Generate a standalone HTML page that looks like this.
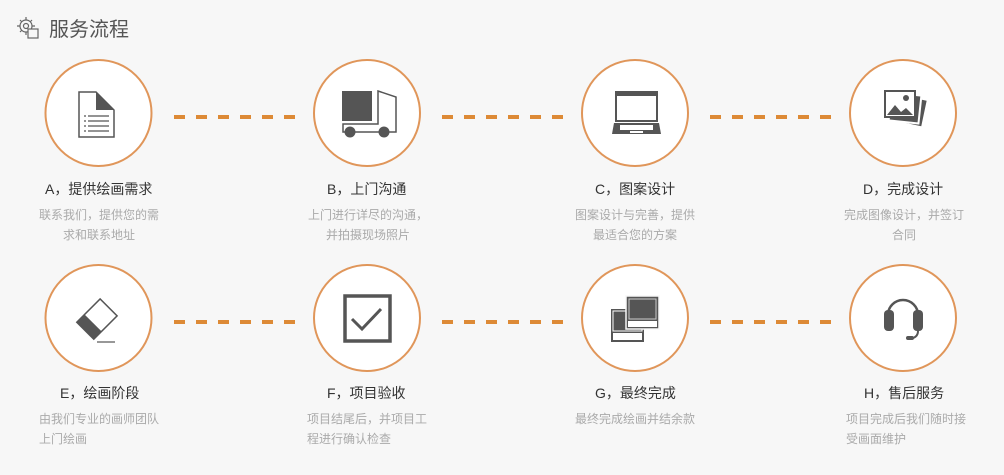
<!DOCTYPE html>
<html><head><meta charset="utf-8"><style>
body{margin:0;width:1004px;height:475px;background:#f7f7f7;font-family:"Liberation Sans","Noto Sans CJK SC",sans-serif;position:relative;overflow:hidden}
.t{position:absolute;font-size:14px;color:#333;white-space:nowrap}
.d{position:absolute;font-size:12px;color:#aaa;line-height:20px;width:124px}
.c{text-align:center}
svg{position:absolute;left:0;top:0}
</style></head><body>
<svg width="1004" height="475" viewBox="0 0 1004 475">
<!-- header gear -->
<g fill="none" stroke="#666" stroke-width="1.2">
<circle cx="26" cy="26" r="6"/><circle cx="26" cy="26" r="2.5"/>
<path d="M26 17v3M26 32v3M17 26h3M32 26h3M20 20l2 2M30 30l2 2M32 20l-2 2M20 32l2-2"/>
<rect x="28" y="29" width="10" height="9" fill="#f7f7f7"/>
</g>
<g fill="#fff" stroke="#e0965a" stroke-width="2">
<circle cx="98.5" cy="113" r="53"/><circle cx="367" cy="113" r="53"/><circle cx="635" cy="113" r="53"/><circle cx="903" cy="113" r="53"/>
<circle cx="98.5" cy="318" r="53"/><circle cx="367" cy="318" r="53"/><circle cx="635" cy="318" r="53"/><circle cx="903" cy="318" r="53"/>
</g>
<g stroke="#dd8a36" stroke-width="4" stroke-dasharray="11 11">
<line x1="174" y1="117" x2="298" y2="117"/><line x1="442" y1="117" x2="566" y2="117"/><line x1="710" y1="117" x2="834" y2="117"/>
<line x1="174" y1="322" x2="298" y2="322"/><line x1="442" y1="322" x2="566" y2="322"/><line x1="710" y1="322" x2="834" y2="322"/>
</g>
<!-- A doc -->
<path d="M79 92h17l18 18v27H79z" fill="#fff" stroke="#555" stroke-width="1.5"/>
<path d="M96 92l18 18H96z" fill="#555"/>
<g stroke="#555" stroke-width="1.3"><path d="M88 116h21M88 121h21M88 126h21M88 131h21M84 116h2M84 121h2M84 126h2M84 131h2"/></g>
<!-- B truck -->
<rect x="342" y="91" width="30" height="30" fill="#555"/>
<path d="M378 91l18 6v35h-53v-8h35z" fill="none" stroke="#555" stroke-width="1.5"/>
<circle cx="350" cy="132" r="5.5" fill="#555"/><circle cx="384" cy="132" r="5.5" fill="#555"/>
<!-- C laptop -->
<rect x="615" y="91" width="43" height="31" fill="#555"/>
<rect x="617" y="96" width="39" height="24" fill="#fff"/>
<path d="M614 123h45l2 11h-49z" fill="#555"/>
<g fill="#fff"><rect x="620" y="125" width="33" height="5"/><rect x="630" y="131" width="13" height="2"/></g>
<!-- D photos -->
<g transform="rotate(12 912 112)"><rect x="895" y="97" width="30" height="28" fill="#555" stroke="#fff" stroke-width="2"/></g>
<g transform="rotate(6 905 108)"><rect x="890" y="94" width="30" height="28" fill="#555" stroke="#fff" stroke-width="2"/></g>
<rect x="885" y="91" width="30" height="26" fill="#fff" stroke="#555" stroke-width="2"/>
<path d="M887 115l8-10 6 7 5-4 7 7z" fill="#555"/><circle cx="906" cy="98" r="3" fill="#555"/>
<!-- E eraser -->
<g transform="rotate(45 98 318)"><rect x="86" y="303" width="24" height="33" fill="#fff" stroke="#555" stroke-width="1.5"/><rect x="86" y="325" width="24" height="11" fill="#555"/></g>
<line x1="97" y1="342" x2="115" y2="342" stroke="#777" stroke-width="1.5"/>
<!-- F check -->
<rect x="345" y="296" width="45" height="45" fill="none" stroke="#555" stroke-width="3.5"/>
<path d="M352 319l10 10 19-20" fill="none" stroke="#555" stroke-width="3"/>
<!-- G frames -->
<rect x="611" y="309" width="33" height="33" fill="#555"/><rect x="613" y="311" width="29" height="20" fill="#555" stroke="#fff" stroke-width="1"/><rect x="613" y="333" width="29" height="7" fill="#fff"/>
<rect x="626" y="296" width="33" height="33" fill="#555" stroke="#f7f7f7" stroke-width="1.5"/><rect x="629" y="299" width="27" height="20" fill="#555" stroke="#ccc" stroke-width="1"/><rect x="628" y="321" width="29" height="6" fill="#fff"/>
<!-- H headset -->
<path d="M888 315a15 15 0 0 1 30 0" fill="none" stroke="#555" stroke-width="2.5"/>
<rect x="884" y="310" width="10" height="21" rx="4" fill="#555"/><rect x="913" y="310" width="10" height="21" rx="4" fill="#555"/>
<path d="M918 331q0 7-9 8" fill="none" stroke="#555" stroke-width="2"/>
<rect x="906" y="336" width="8" height="4" rx="2" fill="#555"/>
</svg>
<div style="position:absolute;left:49px;top:13px;font-size:20px;color:#555">服务流程</div>

<div class="t" style="left:45px;top:179px">A，提供绘画需求</div>
<div class="t" style="left:327px;top:179px">B，上门沟通</div>
<div class="t" style="left:595px;top:179px">C，图案设计</div>
<div class="t" style="left:863px;top:179px">D，完成设计</div>
<div class="t" style="left:60px;top:383px">E，绘画阶段</div>
<div class="t" style="left:327px;top:383px">F，项目验收</div>
<div class="t" style="left:595px;top:383px">G，最终完成</div>
<div class="t" style="left:864px;top:383px">H，售后服务</div>

<div class="d c" style="left:37px;top:205px">联系我们，提供您的需求和联系地址</div>
<div class="d c" style="left:306px;top:205px">上门进行详尽的沟通，并拍摄现场照片</div>
<div class="d c" style="left:573px;top:205px">图案设计与完善，提供最适合您的方案</div>
<div class="d c" style="left:842px;top:205px">完成图像设计，并签订合同</div>
<div class="d" style="left:39px;top:409px">由我们专业的画师团队上门绘画</div>
<div class="d" style="left:307px;top:409px">项目结尾后，并项目工程进行确认检查</div>
<div class="d" style="left:575px;top:409px;width:140px">最终完成绘画并结余款</div>
<div class="d" style="left:846px;top:409px">项目完成后我们随时接受画面维护</div>
</body></html>
